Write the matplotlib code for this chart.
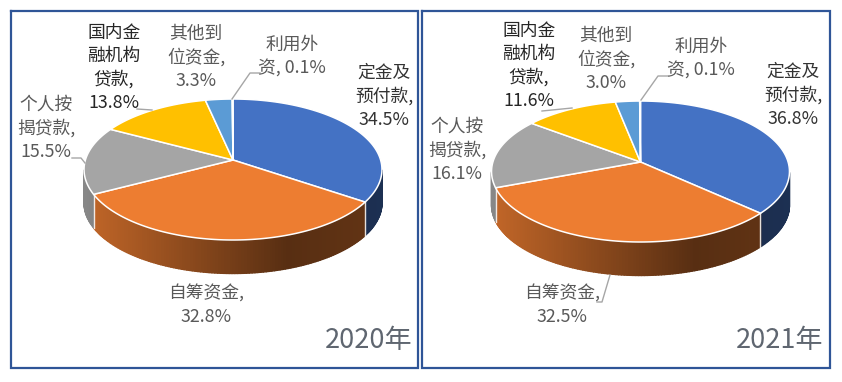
import numpy as np
import matplotlib
matplotlib.use("Agg")
from matplotlib import pyplot as plt
from matplotlib.collections import PolyCollection

plt.rcParams['font.family'] = ['Noto Sans CJK SC', 'DejaVu Sans']

labels = ["定金及\n预付款,", "自筹资金,", "个人按\n揭贷款,", "国内金\n融机构\n贷款,", "其他到\n位资金,", "利用外\n资,"]
values_2020 = [34.5, 32.8, 15.5, 13.8, 3.3, 0.1]
values_2021 = [36.8, 32.5, 16.1, 11.6, 3.0, 0.1]
colors = ["#4472c4", "#ed7d31", "#a5a5a5", "#ffc000", "#5b9bd5", "#70ad47"]
text_colors = ["#333333", "#595959", "#595959", "#262626", "#595959", "#595959"]

# label centres in pixels
pos_2020 = [(384, 96), (206, 305), (46, 128), (114, 68), (196, 57), (292, 56)]
pos_2021 = [(793, 95), (562, 305), (457, 150), (529, 66), (606, 59), (701, 58)]

# leader lines
lines_2020 = [[(232, 99), (250, 73), (260, 73)],
              [(137, 109), (152, 110)],
              [(72, 158), (81, 158), (85, 163)]]
lines_2021 = [[(641, 100), (658, 76), (668, 76)],
              [(542, 111), (572, 108)],
              [(610, 275), (602, 302), (597, 302)]]

A = 147.6   # flat radius x
B = 69.2    # flat radius y
K = 0.135   # perspective
DEPTH = 34


def rim(theta, cx, cy):
    u = np.sin(theta)
    v = np.cos(theta)
    d = 1 + K * v
    return cx + A * u / d, cy - B * v / d


def shade(color, x, cx):
    # side wall gets darker to the right, then a bit lighter again
    f = np.interp((x - cx) / 149, [-1, 0.36, 1], [0.82, 0.37, 0.42])
    return tuple(np.array(matplotlib.colors.to_rgb(color)) * f)


def pie3d(ax, values, cx, cy):
    vals = np.array(values, dtype=float)
    edges = np.concatenate([[0], np.cumsum(vals / vals.sum())]) * 2 * np.pi

    # walls first
    for i in range(len(vals)):
        th = np.linspace(edges[i], edges[i + 1], max(int((edges[i + 1] - edges[i]) * 60), 2))
        x, y = rim(th, cx, cy)
        front = np.cos(th) < -K
        quads = []
        cols = []
        for j in range(len(th) - 1):
            if front[j] and front[j + 1]:
                quads.append([(x[j], y[j]), (x[j + 1], y[j + 1]),
                              (x[j + 1], y[j + 1] + DEPTH - 0.5), (x[j], y[j] + DEPTH - 0.5)])
                cols.append(shade(colors[i], (x[j] + x[j + 1]) / 2, cx))
        if quads:
            ax.add_collection(PolyCollection(quads, facecolors=cols, edgecolors=cols, linewidths=1.0, zorder=2))

    # white separators on the wall
    for e in edges[:-1]:
        if np.cos(e) < -K:
            x, y = rim(e, cx, cy)
            ax.plot([x, x], [y, y + DEPTH], color="white", lw=1.0, alpha=0.85, zorder=3)

    # top face
    for i in range(len(vals)):
        th = np.linspace(edges[i], edges[i + 1], max(int((edges[i + 1] - edges[i]) * 60), 2))
        x, y = rim(th, cx, cy)
        ax.fill(np.r_[cx, x], np.r_[cy, y], facecolor=colors[i], edgecolor="white",
                lw=1.1, joinstyle="round", zorder=4)


def add_labels(ax, values, pos, lines):
    for lab, val, p, tc in zip(labels, values, pos, text_colors):
        head = lab + " %.1f%%" % val if lab.endswith("资,") else lab + "\n%.1f%%" % val
        ax.text(p[0], p[1], head, ha="center", va="center", fontsize=12.8, color=tc,
                linespacing=1.36, zorder=6)
    for ln in lines:
        xs, ys = zip(*ln)
        ax.plot(xs, ys, color="#a6a6a6", lw=1.0, zorder=5)


fig = plt.figure(figsize=(8.42, 3.82), dpi=100)
ax = fig.add_axes([0, 0, 1, 1])
ax.set_xlim(0, 842)
ax.set_ylim(382, 0)
ax.axis("off")

pie3d(ax, values_2020, 233, 160)
pie3d(ax, values_2021, 640.5, 162)
add_labels(ax, values_2020, pos_2020, lines_2020)
add_labels(ax, values_2021, pos_2021, lines_2021)

ax.text(369, 340, "2020年", ha="center", va="center", fontsize=19.5, color="#5f6670", zorder=6)
ax.text(780, 340, "2021年", ha="center", va="center", fontsize=19.5, color="#5f6670", zorder=6)

# frames
for x0, x1 in [(11, 418), (422, 830)]:
    ax.plot([x0, x1, x1, x0, x0], [11, 11, 368, 368, 11], color="#2f5597", lw=1.6,
            solid_joinstyle="miter", zorder=7)

fig.savefig("out.png", dpi=100)
